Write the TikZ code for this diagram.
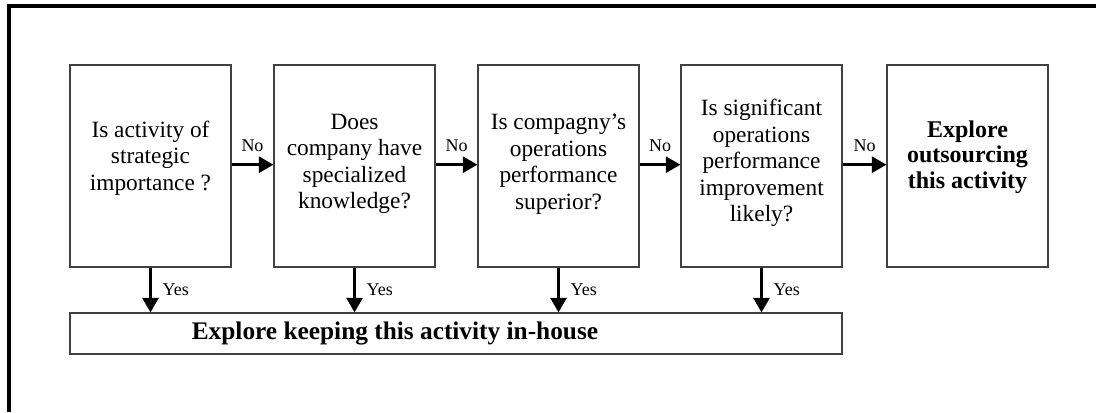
\documentclass[tikz,border=0pt]{standalone}
\usepackage{fontspec}
\setmainfont{Liberation Serif}
\usetikzlibrary{arrows.meta}
\begin{document}
\begin{tikzpicture}[x=0.75pt,y=-0.75pt,
  qbox/.style={draw=black!75, line width=0.8pt, minimum width=161*0.75pt, minimum height=202*0.75pt, inner sep=0pt},
  qtext/.style={align=center, font=\fontsize{17.5}{19.9}\selectfont, inner sep=0pt},
  btext/.style={align=center, font=\fontsize{18}{19.2}\selectfont\bfseries, inner sep=0pt},
  flow/.style={line width=2.2pt, -{Triangle[length=11pt,width=12pt]}},
  edgelbl/.style={font=\fontsize{13.5}{15}\selectfont, inner sep=0pt}]
\useasboundingbox (0,0) rectangle (1096,412);
% outer frame (only its left and top sides fall on the page)
\draw[line width=2.5pt] (9,412) -- (9,6) -- (1096,6);

% decision boxes
\node[qbox] (q1) at (150.5,166) {};
\node[qbox] (q2) at (354.5,166) {};
\node[qbox] (q3) at (558.5,166) {};
\node[qbox] (q4) at (761.5,166) {};
\node[qbox] (q5) at (967.5,166) {};

\node[qtext] (t1) at (150.5,158) {Is activity of\\strategic\\importance ?};
\node[qtext] (t2) at (354.5,164) {Does\\company have\\specialized\\knowledge?};
\node[qtext] (t3) at (558.5,164) {Is compagny’s\\operations\\performance\\superior?};
\node[qtext] (t4) at (761.5,163) {Is significant\\operations\\performance\\improvement\\likely?};
\node[btext] (t5) at (967.5,157) {Explore\\outsourcing\\this activity};

% in-house box
\node[draw=black!75, line width=0.8pt, minimum width=772*0.75pt, minimum height=41*0.75pt, inner sep=0pt] (keep) at (456,333.5) {};
\node[font=\fontsize{19}{20}\selectfont\bfseries, inner sep=0pt] (keeptxt) at (395,333) {Explore keeping this activity in-house};

% "No" connectors
\foreach \a/\b in {q1/q2,q2/q3,q3/q4,q4/q5}{
  \draw[flow] ([yshift=1pt]\a.east) -- ([yshift=1pt]\b.west)
    node[midway, above=9pt, edgelbl] {No};
}

% "Yes" connectors
\foreach \a in {q1,q2,q3,q4}{
  \draw[flow] (\a.south) -- (\a.south |- keep.north)
    node[midway, right=8pt, edgelbl] {Yes};
}
\end{tikzpicture}
\end{document}
